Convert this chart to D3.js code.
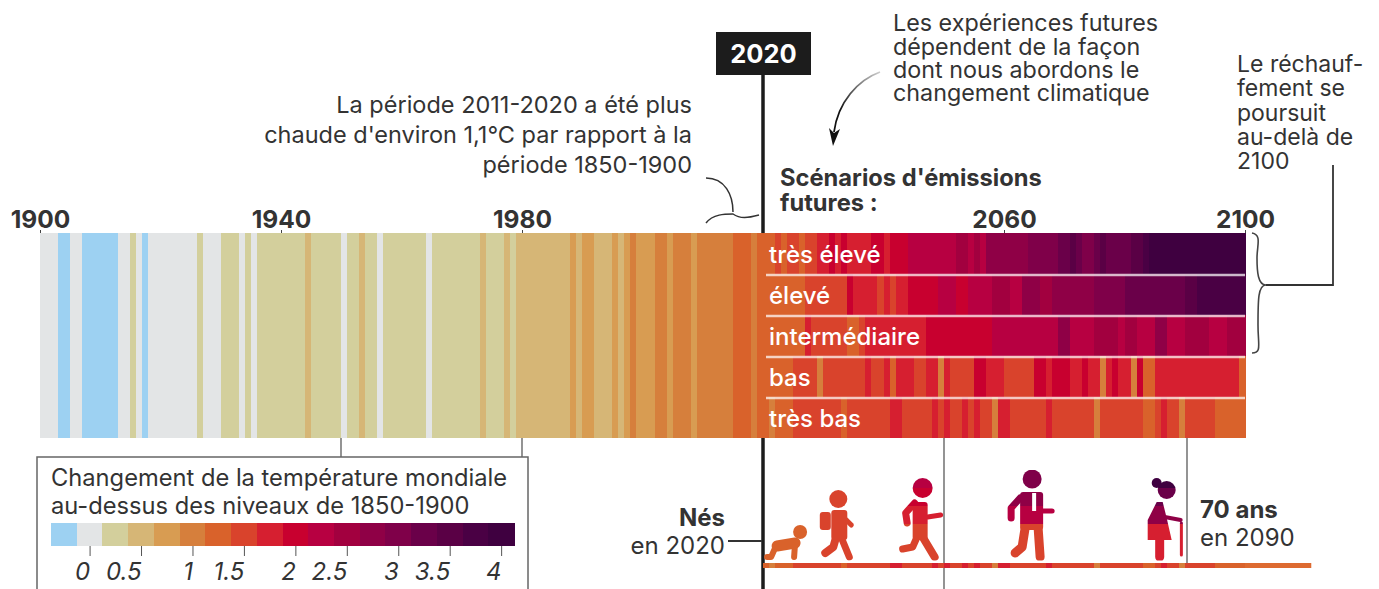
<!DOCTYPE html>
<html lang="fr">
<head>
<meta charset="utf-8">
<script src="https://cdn.jsdelivr.net/npm/d3@7"></script>
<style>
    html, body { margin: 0; background: #fff; }
    svg { display: block; }
    text { font-family: Inter, "Noto Sans", sans-serif; fill: #333; }
</style>
</head>
<body>
<div id="chart"></div>
<script>
// temperature change per year, degrees above 1850-1900
const observed = [
    0, 0, 0, -0.25, -0.25, 0, 0, -0.25, -0.25, -0.25,
    -0.25, -0.25, -0.25, 0, 0, 0.25, 0, -0.25, 0, 0,
    0, 0, 0, 0, 0, 0, 0.25, 0, 0, 0,
    0.25, 0.25, 0.25, 0, 0.25, 0, 0.25, 0.25, 0.25, 0.25,
    0.25, 0.25, 0.25, 0.25, 0.5, 0.25, 0.25, 0.25, 0.25, 0.25,
    0, 0.25, 0.25, 0.5, 0.25, 0.25, 0, 0.25, 0.25, 0.25,
    0.25, 0.25, 0.25, 0.25, 0, 0.25, 0.25, 0.25, 0.25, 0.25,
    0.25, 0.25, 0.25, 0.5, 0.25, 0.25, 0.25, 0.5, 0.25, 0.5,
    0.5, 0.5, 0.5, 0.5, 0.5, 0.5, 0.5, 0.5, 0.75, 0.5,
    0.75, 0.75, 0.5, 0.5, 0.5, 0.75, 0.5, 0.75, 1, 0.75,
    0.75, 0.75, 1, 1, 0.75, 1, 1, 1, 0.75, 1,
    1, 1, 1, 1, 1, 1.25, 1.25, 1.25, 1, 1.25
];
const veryHigh = [
    1.25, 1.25, 1.5, 1.25, 1.5, 1.5, 1.25, 1.5, 1.5, 1.75,
    1.75, 2, 1.75, 2, 1.75, 1.75, 1.75, 1.75, 2, 2,
    1.75, 2, 2, 2, 2.25, 2.25, 2.25, 2.25, 2.25, 2.25,
    2.25, 2.25, 2.5, 2.5, 2.25, 2.5, 2.25, 2.75, 2.75, 2.75,
    2.75, 2.75, 2.75, 2.75, 3, 3, 3, 3, 3, 3.25,
    3.25, 3.5, 3.25, 3, 3, 3.25, 3.5, 3.25, 3.25, 3.25,
    3.25, 3.5, 3.5, 3.75, 4, 4, 4, 4, 4, 4,
    4, 4, 4, 4, 4, 4, 4, 4, 4, 4
];
const high = [
    1.25, 1.25, 1.25, 1.25, 1.25, 1.25, 1.25, 1.5, 1.5, 1.5,
    1.5, 1.5, 1.5, 1.5, 2, 1.75, 1.75, 1.75, 1.75, 1.5,
    1.75, 1.5, 1.75, 1.75, 2, 2, 2, 2, 2, 2.25,
    2.25, 2.25, 2, 2, 2.25, 2.25, 2.25, 2.25, 2.5, 2.5,
    2.5, 2.25, 2.25, 2.75, 2.75, 2.75, 2.5, 2.5, 2.75, 2.75,
    2.75, 2.75, 2.75, 2.75, 2.75, 3, 3, 3, 3, 3,
    3.25, 3.25, 3.25, 3.25, 3.25, 3.25, 3.25, 3.25, 3.25, 3.25,
    3.5, 3.5, 3.75, 3.75, 3.75, 3.75, 3.75, 3.75, 3.75, 3.75
];
const intermediate = [
    1.25, 1.25, 1.25, 1.25, 1.25, 1.25, 1.25, 1.75, 1.5, 1.5,
    1.5, 1.5, 1.5, 1.5, 1.25, 1.25, 1.5, 1.75, 1.75, 1.75,
    1.75, 1.75, 1.75, 1.75, 1.75, 1.75, 1.75, 2, 2, 2,
    2, 2, 2, 2, 2, 2, 2, 2, 2.25, 2.25,
    2.25, 2.25, 2.25, 2.25, 2.25, 2.25, 2.25, 2.25, 2.25, 2.75,
    2.75, 2.25, 2.25, 2.25, 2.25, 2.5, 2.5, 2.5, 2.5, 2.25,
    2.5, 2.5, 2.25, 2.25, 2.25, 2.75, 2.75, 2.25, 2.25, 2.25,
    2.5, 2.5, 2.5, 2.5, 2.25, 2.25, 2.25, 2.5, 2.5, 2.5
];
const low = [
    1.25, 1.25, 1.25, 1.25, 1.25, 1.5, 1.5, 1.5, 1.5, 1,
    1.5, 1.5, 1.5, 1.5, 1.5, 1.5, 1.5, 1.75, 1.5, 1.5,
    1.75, 1.25, 1.75, 1.75, 1.75, 1.5, 1.5, 1.75, 1.75, 1,
    1.75, 1.5, 1.5, 1.5, 1.5, 2, 2, 1.75, 1.75, 1.75,
    1.5, 1.5, 1.5, 1.5, 1.5, 2, 2, 1.75, 2, 2,
    2, 1.75, 1.75, 2, 1.75, 1.75, 1, 1.75, 2, 1.75,
    1.75, 1, 2, 1.25, 1.25, 1.75, 1.75, 1.75, 1.75, 1.75,
    1.75, 1.75, 1.75, 1.75, 1.75, 1.75, 1.75, 1.75, 1.75, 1.25
];
const veryLow = [
    1.25, 1, 1.25, 1.25, 1.25, 1.5, 1.5, 1.5, 1.5, 1.5,
    1.5, 1.5, 1.5, 1.25, 1.5, 1.5, 1.5, 1.5, 1.5, 1.5,
    1.5, 1.75, 1.75, 1.5, 1.5, 1.5, 1.5, 1.5, 1.75, 1.5,
    1.75, 1.5, 1.5, 1.75, 1.5, 1.75, 1.5, 1.5, 1, 1.75,
    1.75, 1.5, 1.5, 1.5, 1.5, 1.5, 1.5, 1.75, 1.5, 1.5,
    1.5, 1.5, 1.5, 1.5, 1.5, 1, 1.5, 1.5, 1.5, 1.5,
    1.5, 1.5, 1.5, 1.25, 1.25, 1.5, 1.75, 1.5, 1.5, 1,
    1.5, 1.5, 1.5, 1.5, 1.5, 1.25, 1.25, 1.25, 1.25, 1.25
];
const scenarioNames = ['très élevé', 'élevé', 'intermédiaire', 'bas', 'très bas'];
const scenarios = [veryHigh, high, intermediate, low, veryLow];
const yearTicks = [1900, 1940, 1980, 2060, 2100];
const legendTicks = [0, 0.5, 1, 1.5, 2, 2.5, 3, 3.5, 4];
const stripeColors = ['#9dd1f2', '#e3e5e6', '#d3cf9c', '#d6b676', '#d89c52', '#d67f3c', '#d9622b', '#d9432c', '#d61f30',
    '#c8002f', '#b70041', '#a2003f', '#8f0046', '#7f0049', '#6a0049', '#5a0045', '#4a0044', '#3f0040'];
const figureYears = [2024, 2032, 2046, 2065, 2087];

const width = 1379;
const height = 589;
const barTop = 233;
const barBottom = 438;
const startFuture = 2020;

const svg = d3.select('#chart').append('svg').attr('width', width).attr('height', height);
const defs = svg.append('defs');

const x = d3.scaleLinear().domain([1900, 2100]).range([40, 1245]);
const rowY = d3.scaleBand().domain(scenarioNames).range([barTop, barBottom]);
const color = d3.scaleQuantize().domain([-0.375, 4.125]).range(stripeColors);

// stripe of a year runs from the end of the previous year to its own tick
const stripe = (sel) => sel
    .attr('x', d => x(d.year - 1))
    .attr('width', d => x(d.year) - x(d.year - 1) + 0.6)
    .attr('fill', d => color(d.value))
    .attr('shape-rendering', 'crispEdges');

svg.append('line').attr('class', 'line-2020')
    .attr('x1', x(startFuture)).attr('x2', x(startFuture))
    .attr('y1', 70).attr('y2', height)
    .attr('stroke', '#1c1c1c').attr('stroke-width', 3.5);

svg.append('g').attr('class', 'observed').selectAll('rect')
    .data(observed.map((value, i) => ({ year: 1901 + i, value })))
    .enter()
    .append('rect')
    .call(stripe)
    .attr('y', barTop)
    .attr('height', barBottom - barTop);

scenarios.forEach((values, k) => {
    const name = scenarioNames[k];
    svg.append('g').attr('class', 'scenario').selectAll('rect')
        .data(values.map((value, i) => ({ year: startFuture + 1 + i, value })))
        .enter()
        .append('rect')
        .call(stripe)
        .attr('y', rowY(name))
        .attr('height', rowY.bandwidth());
    if (k > 0) {
        svg.append('line')
            .attr('x1', x(startFuture) + 3).attr('x2', x(2100))
            .attr('y1', rowY(name) + 1).attr('y2', rowY(name) + 1)
            .attr('stroke', '#fff').attr('stroke-opacity', 0.72).attr('stroke-width', 2.6);
    }
    svg.append('text')
        .attr('x', x(startFuture) + 6)
        .attr('y', rowY(name) + rowY.bandwidth() / 2 + 9.5)
        .attr('font-size', 24)
        .attr('font-weight', 500)
        .style('fill', '#fff')
        .text(name);
});

// year axis
const yearAxis = svg.append('g')
    .attr('transform', 'translate(0,' + barTop + ')')
    .call(d3.axisTop(x).tickValues(yearTicks).tickFormat(d3.format('d')).tickSize(3).tickPadding(2));
yearAxis.select('.domain').remove();
yearAxis.selectAll('line').attr('stroke', '#444');
yearAxis.selectAll('text')
    .attr('font-size', 24.5)
    .attr('font-weight', 700)
    .style('font-family', 'Inter')
    .style('fill', '#333');

// 2020 flag
svg.append('rect').attr('x', 716).attr('y', 32).attr('width', 95).attr('height', 43).attr('fill', '#1c1c1c');
svg.append('text').attr('x', 763.5).attr('y', 62.5).attr('text-anchor', 'middle')
    .attr('font-size', 25.5).attr('font-weight', 700).style('fill', '#fff').text('2020');

// one text element per note, one tspan per line
const note = (list, px, ys, size, anchor, weights) => {
    const t = svg.append('text')
        .attr('text-anchor', anchor || 'start')
        .attr('font-size', size);
    list.forEach((line, i) => {
        t.append('tspan').attr('x', px).attr('y', ys[i])
            .attr('font-weight', weights ? weights[i] : 400)
            .text(line);
    });
};

note(['La période 2011-2020 a été plus', "chaude d'environ 1,1°C par rapport à la", 'période 1850-1900'],
    692, [113, 143, 173], 23.5, 'end');
note(['Les expériences futures', 'dépendent de la façon', 'dont nous abordons le', 'changement climatique'],
    893, [31, 54.5, 77.5, 100.5], 23.3);
note(["Scénarios d'émissions", 'futures :'], 780, [186, 211], 23.7, 'start', [700, 700]);
note(['Le réchauf-', 'fement se', 'poursuit', 'au-delà de', '2100'], 1237, [72, 96, 121, 145, 169], 23);
note(['Nés', 'en 2020'], 725, [526, 554], 24, 'end', [700, 400]);
note(['70 ans', 'en 2090'], 1200, [518, 546], 24, 'start', [700, 400]);

// brace under the 2011-2020 note
svg.append('path')
    .attr('d', 'M706,178 C725,178 733,195 733,212 M706,223 C713,214 725,214 733,214 C740,219 748,218 759,215')
    .attr('fill', 'none').attr('stroke', '#333').attr('stroke-width', 1.5);

// arrow from the scenarios note
const fade = defs.append('linearGradient').attr('id', 'fade')
    .attr('gradientUnits', 'userSpaceOnUse')
    .attr('x1', 880).attr('y1', 72).attr('x2', 840).attr('y2', 110);
fade.append('stop').attr('offset', 0).attr('stop-color', '#ccc');
fade.append('stop').attr('offset', 1).attr('stop-color', '#111');
svg.append('path').attr('d', 'M880,72 C858,80 838,102 834,132')
    .attr('fill', 'none').attr('stroke', 'url(#fade)').attr('stroke-width', 1.8);
svg.append('path').attr('d', 'M833,146 L829,128 L834,133 L840,129 Z').attr('fill', '#111');

// bracket of the three high scenarios
svg.append('path')
    .attr('d', 'M1252,233 C1262,235 1257,245 1257,258 C1257,272 1258,285 1266,285 C1258,285 1258,300 1258,325 C1258,345 1262,353 1252,353')
    .attr('fill', 'none').attr('stroke', '#444').attr('stroke-width', 1.6);
svg.append('path').attr('d', 'M1333,165 L1333,285 L1266,285')
    .attr('fill', 'none').attr('stroke', '#333').attr('stroke-width', 1.8);

// thin drop lines
[[341, barBottom, 457], [522, barBottom, 457], [944, barBottom, height], [1187, barBottom, 565]].forEach(d => {
    svg.append('line').attr('x1', d[0]).attr('x2', d[0]).attr('y1', d[1]).attr('y2', d[2])
        .attr('stroke', '#666').attr('stroke-width', 1.4);
});
svg.append('line').attr('x1', 728).attr('x2', 762).attr('y1', 541).attr('y2', 541)
    .attr('stroke', '#333').attr('stroke-width', 1.8);

// legend
svg.append('rect').attr('x', 37).attr('y', 457).attr('width', 491).attr('height', 150)
    .attr('fill', '#fff').attr('stroke', '#666').attr('stroke-width', 1.5);
note(['Changement de la température mondiale', 'au-dessus des niveaux de 1850-1900'], 51, [486, 514], 23.7);

const legendX = d3.scaleLinear().domain(color.domain()).range([51, 514]);
svg.append('g').selectAll('rect').data(color.range())
    .enter()
    .append('rect')
    .attr('x', d => legendX(color.invertExtent(d)[0]))
    .attr('width', d => legendX(color.invertExtent(d)[1]) - legendX(color.invertExtent(d)[0]) + 0.5)
    .attr('y', 523)
    .attr('height', 23)
    .attr('shape-rendering', 'crispEdges')
    .attr('fill', d => d);
const legendAxis = svg.append('g')
    .attr('transform', 'translate(0,546)')
    .call(d3.axisBottom(legendX).tickValues(legendTicks).tickFormat(d => String(d)).tickSize(10).tickPadding(7));
legendAxis.select('.domain').remove();
legendAxis.selectAll('line').attr('stroke', '#555');
legendAxis.selectAll('text')
    .attr('font-size', 24)
    .attr('text-anchor', 'end')
    .style('font-style', 'italic')
    .style('font-family', 'Inter')
    .style('fill', '#333');

// life line of somebody born in 2020: same stripes as the lowest scenario, then flat
const lifeY = 563;
svg.append('g').selectAll('rect')
    .data(veryLow.map((value, i) => ({ year: startFuture + 1 + i, value })))
    .enter()
    .append('rect')
    .call(stripe)
    .attr('y', lifeY)
    .attr('height', 5);
svg.append('rect').attr('x', x(2100)).attr('y', lifeY).attr('height', 5)
    .attr('width', x(2111) - x(2100))
    .attr('fill', '#dd6a30');

// the five figures, cut out of the stripes of their year
const seg = (pts, w) => ({ pts, w });
const figures = [
    { circles: [[13, -28, 7]], rects: [], polys: [],
      segs: [seg([[-10, -14], [8, -17]], 11), seg([[8, -17], [7, -3]], 6), seg([[-12, -12], [-16, -3], [-20, -3]], 6)] },
    { circles: [[3, -61, 9]], rects: [[-15.5, -48, 11, 18], [-4, -50, 16, 30]], polys: [],
      segs: [seg([[11, -40], [16, -35]], 5), seg([[0, -20], [-2, -13], [-10, -7]], 8), seg([[7, -20], [14, -3]], 7)] },
    { circles: [[3, -72, 10]], rects: [[-7, -58, 15, 38]], polys: [],
      segs: [seg([[-5, -57], [-14, -47], [-12.5, -37]], 7), seg([[8, -43], [21, -45]], 5), seg([[-3, -22], [-7, -13], [-17, -11]], 7), seg([[3, -23], [15, -3]], 8)] },
    { circles: [[-2, -81, 9.5]], rects: [[-14, -68, 23, 38]], polys: [],
      segs: [seg([[-14, -62], [-23, -52], [-23, -42]], 7), seg([[9, -49], [18, -49]], 5), seg([[-9, -32], [-12, -13], [-19, -7]], 9), seg([[4, -32], [6, -3]], 9)],
      cut: seg([[0, -67], [0, -49]], 4) },
    { circles: [[0, -70, 9], [-10, -77, 5]], rects: [], polys: [[[-10, -58], [-4, -58], [0, -42], [5, -20], [-19, -20], [-19, -40]]],
      segs: [seg([[-2, -43], [14, -40]], 4), seg([[14.7, -37], [14.7, -5]], 3), seg([[-7, -20], [-7, -3]], 9)] }
];
const baseline = 560;
const figureBand = d3.scaleBand().domain(scenarioNames).range([baseline - 90, baseline]);
const pathLine = d3.line();

figures.forEach((f, i) => {
    const year = figureYears[i];
    const mask = defs.append('mask').attr('id', 'figure-' + i)
        .attr('maskUnits', 'userSpaceOnUse')
        .attr('x', -40).attr('y', -100).attr('width', 80).attr('height', 105);
    f.circles.forEach(c => mask.append('circle').attr('cx', c[0]).attr('cy', c[1]).attr('r', c[2]).attr('fill', '#fff'));
    f.rects.forEach(r => mask.append('rect').attr('x', r[0]).attr('y', r[1]).attr('width', r[2]).attr('height', r[3]).attr('rx', 3).attr('fill', '#fff'));
    f.polys.forEach(p => mask.append('path').attr('d', pathLine(p) + 'Z').attr('fill', '#fff'));
    f.segs.forEach(s => mask.append('path').attr('d', pathLine(s.pts)).attr('fill', 'none')
        .attr('stroke', '#fff').attr('stroke-width', s.w)
        .attr('stroke-linecap', 'round').attr('stroke-linejoin', 'round'));
    if (f.cut) {
        mask.append('path').attr('d', pathLine(f.cut.pts)).attr('stroke', '#000').attr('stroke-width', f.cut.w);
    }
    const g = svg.append('g').attr('transform', 'translate(' + x(year) + ',' + baseline + ')')
        .append('g').attr('mask', 'url(#figure-' + i + ')');
    scenarios.forEach((values, k) => {
        g.append('rect')
            .attr('x', -40).attr('width', 80)
            .attr('y', figureBand(scenarioNames[k]) - baseline)
            .attr('height', figureBand.bandwidth() + 0.5)
            .attr('fill', color(values[year - startFuture - 1]));
    });
});
</script>
</body>
</html>
